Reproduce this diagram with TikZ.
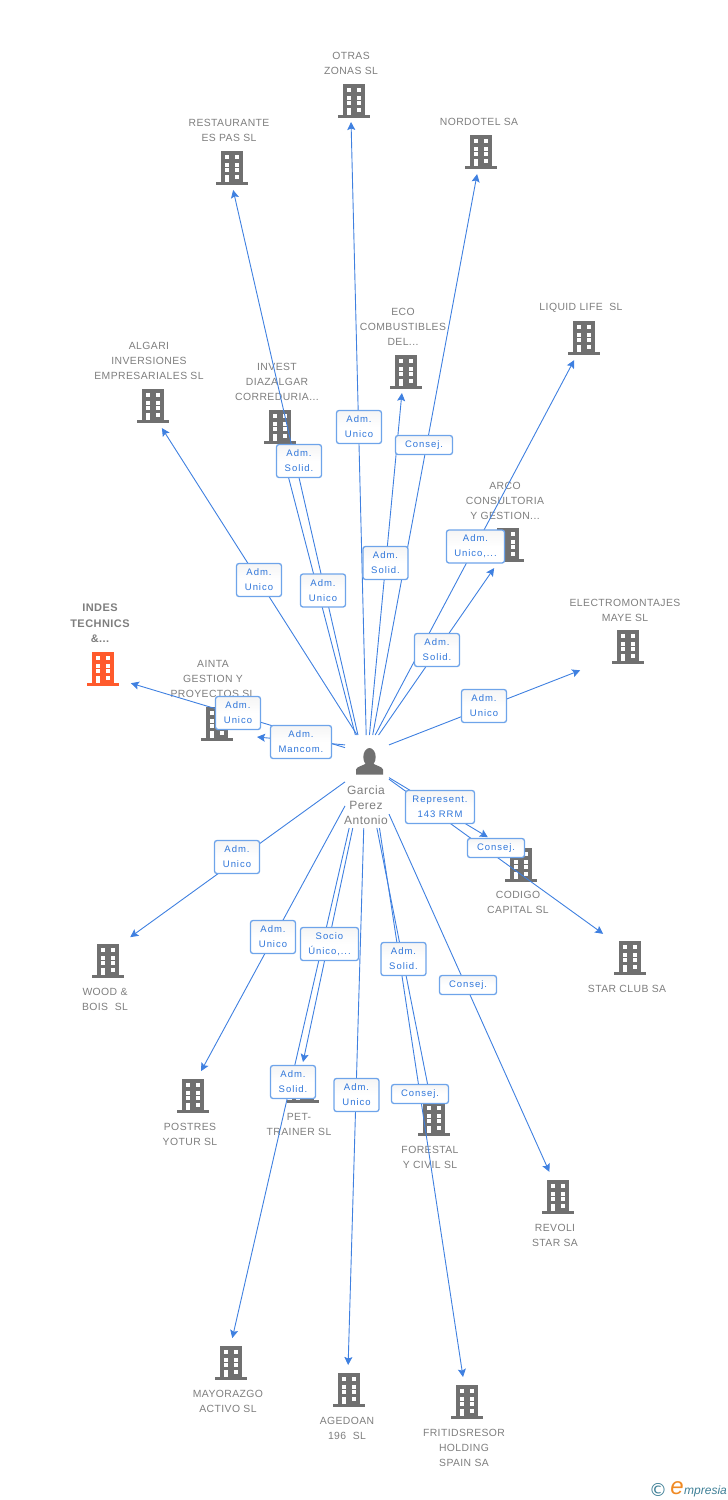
\documentclass[tikz,border=0pt]{standalone}
\usepackage{fontspec}
\setmainfont{Liberation Sans}
\newfontfamily\labelfont{Liberation Sans}[LetterSpace=4]
\newfontfamily\rolefont{Liberation Sans}[LetterSpace=10]
\newfontfamily\markfont{DejaVu Sans}
\usepackage{tikz}
\usetikzlibrary{arrows.meta}
\definecolor{iconc}{HTML}{707070}
\definecolor{mainc}{HTML}{FF5A2C}
\definecolor{textc}{HTML}{7E7E7E}
\definecolor{linkc}{HTML}{3F80E0}
\definecolor{framec}{HTML}{6EA4EA}
\definecolor{rolec}{HTML}{2F76DA}
\definecolor{logoc}{HTML}{3E7F96}
\definecolor{logoe}{HTML}{F08A24}
\tikzset{
	firm/.style={circle,inner sep=0pt,outer sep=0pt,minimum size=#1},
	firm/.default=44,
	hub/.style={rectangle,inner sep=0pt,outer sep=0pt,minimum width=44,minimum height=93},
	firmname/.style={align=center,text=textc,inner sep=0pt,yshift=-0.8pt,font=\labelfont\fontsize{10.4}{15}\selectfont},
	mainname/.style={firmname,font=\labelfont\bfseries\fontsize{11}{15.5}\selectfont},
	link/.style={draw=linkc,line width=0.9pt,-{Stealth[length=8pt,width=8pt,inset=1.5pt]}},
	role/.style={draw=framec,line width=1.3pt,rounded corners=2.5pt,top color=black!4,bottom color=white,middle color=white,
		text=rolec,align=center,inner sep=0pt,minimum width=45,minimum height=33,font=\rolefont\fontsize{9.5}{15}\selectfont},
}
% icon of a firm: name, position, colour, size of its node
\newcommand{\firmicon}[4][44]{
	\node[firm=#1] (#2) at (#3) {};
	\begin{scope}[shift={(#3)}]
		\fill[#4] (-11,-17) rectangle (11,17);
		\fill[#4] (-16,14) rectangle (16,17);
		\fill[white] (-7.3,-12.8) rectangle (-3.3,-8.8);
		\fill[white] (2.7,-12.8) rectangle (6.7,-8.8);
		\fill[white] (-7.3,-5.5) rectangle (-3.3,-1.5);
		\fill[white] (2.7,-5.5) rectangle (6.7,-1.5);
		\fill[white] (-7.3,0.2) rectangle (-3.3,4.2);
		\fill[white] (2.7,0.2) rectangle (6.7,4.2);
		\fill[white] (-7.3,7.2) rectangle (-3.3,14);
		\fill[white] (2.7,7.2) rectangle (6.7,11.2);
	\end{scope}
}
\begin{document}
\begin{tikzpicture}[x=1pt,y=-1pt]
	\useasboundingbox (0,0) rectangle (728,1500);

	\firmicon[42.4]{otras}{354,101}{iconc}
	\firmicon[44]{restaurante}{232,168}{iconc}
	\firmicon[44.8]{nordotel}{481,152}{iconc}
	\firmicon[42.8]{eco}{406,372}{iconc}
	\firmicon[48.4]{liquid}{584,338}{iconc}
	\firmicon[47.6]{algari}{153,406}{iconc}
	\firmicon[44]{invest}{280,427}{iconc}
	\firmicon[53.8]{arco}{508,545}{iconc}
	\firmicon[106.4]{electro}{628,647}{iconc}
	\firmicon[62.6]{indes}{103,669}{mainc}
	\firmicon[84.2]{ainta}{217,724}{iconc}
	\firmicon[86.6]{codigo}{521,865}{iconc}
	\firmicon[72.2]{starclub}{630,958}{iconc}
	\firmicon[65.2]{wood}{108,961}{iconc}
	\firmicon[52.4]{postres}{193,1096}{iconc}
	\firmicon[48]{pet}{303,1086}{iconc}
	\firmicon[50]{mayorazgo}{231,1363}{iconc}
	\firmicon[50]{agedoan}{349,1390}{iconc}
	\firmicon[44.8]{forestal}{434,1119}{iconc}
	\firmicon[50.6]{fritids}{467,1402}{iconc}
	\firmicon[53.2]{revoli}{558,1197}{iconc}

	\node[firmname] (otrasname) at (351,62.5) {OTRAS\\ZONAS SL};
	\node[firmname] (restaurantename) at (229,129.5) {RESTAURANTE\\ES PAS SL};
	\node[firmname] (nordotelname) at (479,121) {NORDOTEL SA};
	\node[firmname] (econame) at (403,326) {ECO\\COMBUSTIBLES\\DEL...};
	\node[firmname] (liquidname) at (581,307) {LIQUID LIFE\ \ SL};
	\node[firmname] (algariname) at (149,360) {ALGARI\\INVERSIONES\\EMPRESARIALES SL};
	\node[firmname] (investname) at (277,381) {INVEST\\DIAZALGAR\\CORREDURIA...};
	\node[firmname] (arconame) at (505,500) {ARCO\\CONSULTORIA\\Y GESTION...};
	\node[firmname] (electroname) at (625,609.5) {ELECTROMONTAJES\\MAYE SL};
	\node[mainname] (indesname) at (100,622.5) {INDES\\TECHNICS\\\&...};
	\node[firmname] (aintaname) at (213,678) {AINTA\\GESTION Y\\PROYECTOS SL};
	\node[firmname] (codigoname) at (518,901.5) {CODIGO\\CAPITAL SL};
	\node[firmname] (starclubname) at (627,988) {STAR CLUB SA};
	\node[firmname] (woodname) at (105,998.5) {WOOD \&\\BOIS\ \ SL};
	\node[firmname] (postresname) at (190,1133.5) {POSTRES\\YOTUR SL};
	\node[firmname] (petname) at (299,1123.5) {PET-\\TRAINER SL};
	\node[firmname] (forestalname) at (430,1156.5) {FORESTAL\\Y CIVIL SL};
	\node[firmname] (revoliname) at (555,1234.5) {REVOLI\\STAR SA};
	\node[firmname] (mayorazgoname) at (228,1400.5) {MAYORAZGO\\ACTIVO SL};
	\node[firmname] (agedoanname) at (347,1427.5) {AGEDOAN\\196\ \ SL};
	\node[firmname] (fritidsname) at (464,1447) {FRITIDSRESOR\\HOLDING\\SPAIN SA};

	\node[hub] (hub) at (367,781.5) {};
	\fill[iconc] (369.5,757) ellipse (6.2 and 9);
	\fill[iconc] (356,774.5) -- (356,769.5) .. controls (357,766.5) and (362,766) .. (366,763.5) -- (373,763.5) .. controls (377,766) and (382,766.5) .. (383,769.5) -- (383,774.5) -- cycle;
	\node[firmname,font=\labelfont\fontsize{12}{15}\selectfont] (hubname) at (366,804) {Garcia\\Perez\\Antonio};

	\draw[link] (hub.91.2) -- (otras.262);
	\draw[link] (hub.101) -- (restaurante.273);
	\draw[link] (hub.83.9) -- (nordotel.260);
	\draw[link] (hub.87.5) -- (eco.259);
	\draw[link] (hub.80.2) -- (liquid.246);
	\draw[link] (hub.102.1) -- (algari.292);
	\draw[link] (hub.104.5) -- (invest.273);
	\draw[link] (hub.76.7) -- (arco.239);
	\draw[link] (hub.59.6) -- (electro.206);
	\draw[link] (hub.123.3) -- (indes.333);
	\draw[link] (hub.121.8) -- (ainta.342);
	\draw[link] (hub.10.3) -- (codigo.140);
	\draw[link] (hub.6.5) -- (starclub.138);
	\draw[link] (hub.181.3) -- (wood.47.5);
	\draw[link] (hub.228.1) -- (postres.72.3);
	\draw[link] (hub.253.2) -- (pet.90);
	\draw[link] (hub.249.9) -- (mayorazgo.87.7);
	\draw[link] (hub.266.3) -- (agedoan.92.3);
	\draw[link] (hub.282.1) -- (forestal.100.3);
	\draw[link] (hub.285.6) -- (fritids.99.1);
	\draw[link] (hub.304.1) -- (revoli.109.8);

	\node[role] (roleotras) at (359,427) {Adm.\\Unico};
	\node[role] (rolerestaurante) at (323,590.5) {Adm.\\Unico};
	\node[role,minimum width=57,minimum height=19] (rolenordotel) at (424,445) {Consej.};
	\node[role] (roleeco) at (385.5,563) {Adm.\\Solid.};
	\node[role,minimum width=58] (roleliquid) at (475.5,546.5) {Adm.\\Unico,...};
	\node[role] (rolealgari) at (259,580) {Adm.\\Unico};
	\node[role] (roleinvest) at (299,461) {Adm.\\Solid.};
	\node[role] (rolearco) at (437,650) {Adm.\\Solid.};
	\node[role] (roleelectro) at (484,706) {Adm.\\Unico};
	\node[role] (roleindes) at (238,713) {Adm.\\Unico};
	\node[role,minimum width=61] (roleainta) at (301,742) {Adm.\\Mancom.};
	\node[role,minimum width=69] (rolecodigo) at (440,807) {Represent.\\143 RRM};
	\node[role,minimum width=57,minimum height=19] (rolestarclub) at (496,848) {Consej.};
	\node[role] (rolewood) at (237,857) {Adm.\\Unico};
	\node[role] (rolepostres) at (273,937) {Adm.\\Unico};
	\node[role,minimum width=58] (rolepet) at (329.5,944) {Socio\\Único,...};
	\node[role] (rolemayorazgo) at (293,1082) {Adm.\\Solid.};
	\node[role] (roleagedoan) at (356.5,1095) {Adm.\\Unico};
	\node[role] (roleforestal) at (403.5,959) {Adm.\\Solid.};
	\node[role,minimum width=57,minimum height=19] (rolefritids) at (420,1094) {Consej.};
	\node[role,minimum width=57,minimum height=19] (rolerevoli) at (468,985) {Consej.};

	\node[text=logoc,inner sep=0pt,font=\markfont\fontsize{18}{18}\selectfont] (copyrightmark) at (658,1489.5) {©};
	\node[text=logoe,inner sep=0pt,font=\itshape\fontsize{24}{24}\selectfont] (logoletter) at (677,1488) {e};
	\node[text=logoc,inner sep=0pt,anchor=west,font=\itshape\fontsize{12}{12}\selectfont] (logoname) at (684,1491) {mpresia};
\end{tikzpicture}
\end{document}
